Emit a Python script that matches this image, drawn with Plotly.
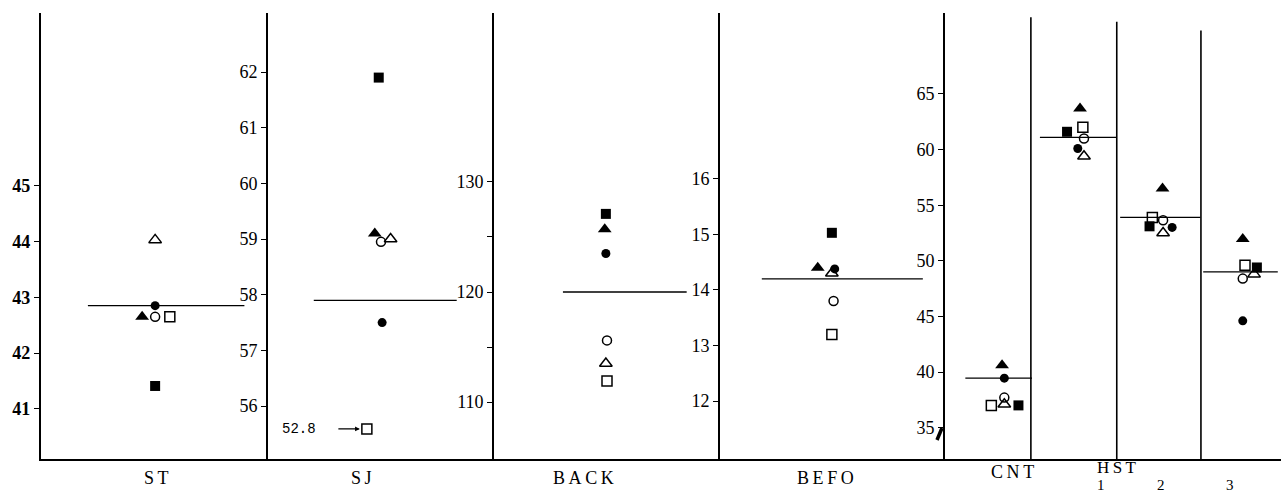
import plotly.graph_objects as go

W, H = 1281, 495
PX = 56.5  # pixels per x-unit inside every panel

# ---------------- data ----------------
panel_left_px = [41, 268, 494, 720, 945]
panel_right_px = [268, 494, 720, 945, 1281]
y_ranges = [[40.10, 48.10], [55.05, 63.06], [104.82, 145.36], [10.955, 18.99], [32.18, 72.28]]
y_ticks = [[41, 42, 43, 44, 45],
           [56, 57, 58, 59, 60, 61, 62],
           [110, 115, 120, 125, 130],
           [12, 13, 14, 15, 16],
           [35, 40, 45, 50, 55, 60, 65]]
y_ticktext = [["41", "42", "43", "44", "45"],
              ["56", "57", "58", "59", "60", "61", "62"],
              ["110", "", "120", "", "130"],
              ["12", "13", "14", "15", "16"],
              ["35", "40", "45", "50", "55", "60", "65"]]

groups = ["ST", "SJ", "BACK", "BEFO", "CNT", "HST1", "HST2", "HST3"]
group_panel = [0, 1, 2, 3, 4, 4, 4, 4]
group_pos = [2.02, 1.98, 1.98, 1.98, 1.03, 2.39, 3.81, 5.31]

filled_circle = [42.85, 57.5, 123.5, 14.38, 39.45, 60.1, 53.0, 44.6]
open_circle = [42.65, 58.95, 115.6, 13.8, 37.7, 61.0, 53.65, 48.4]
filled_triangle = [42.65, 59.1, 125.7, 14.4, 40.6, 63.7, 56.5, 51.95]
open_triangle = [44.03, 59.0, 113.5, 14.3, 37.1, 59.4, 52.5, 48.8]
filled_square = [41.41, 61.9, 127.1, 15.03, 37.0, 61.6, 53.1, 49.4]
open_square = [42.65, 52.8, 111.9, 13.2, 37.0, 62.0, 53.9, 49.6]
means = [42.85, 57.9, 120.0, 14.2, 39.45, 61.1, 53.9, 49.0]

# horizontal jitter of each marker within its group (x-units)
off_fc = [0, 0.04, 0, 0.05, 0.02, -0.04, 0.21, -0.04]
off_oc = [0, 0.02, 0.02, 0.03, 0.02, 0.07, 0.05, -0.04]
off_ft = [-0.23, -0.09, -0.02, -0.25, -0.02, 0, 0.04, -0.04]
off_ot = [0, 0.19, 0, 0, 0.02, 0.07, 0.05, 0.16]
off_fs = [0, -0.02, 0, 0, 0.27, -0.23, -0.19, 0.21]
off_os = [0.26, -0.23, 0.02, 0, -0.21, 0.05, -0.14, 0]

# extents of the mean line around the group centre (x-units)
mean_left = [-1.19, -1.17, -0.76, -1.24, -0.67, -0.71, -0.71, -0.74]
mean_right = [1.58, 1.36, 1.43, 1.61, 0.51, 0.64, 0.71, 0.58]

# dividers inside the last panel
divider_pos = [1.52, 3.04, 4.53]
divider_top = [71.9, 71.5, 70.7]

# axis labels
label_text = ["ST", "SJ", "BACK", "BEFO", "CNT", "HST", "1", "2", "3"]
label_panel = [0, 1, 2, 3, 4, 4, 4, 4, 4]
label_pos = [2.04, 1.65, 1.59, 1.87, 1.20, 3.04, 2.76, 3.83, 5.04]
label_row = [478, 478, 478, 478, 472, 467, 485, 485, 485]
label_size = [18, 18, 18, 18, 18, 17, 15, 15, 15]

# value below the SJ axis floor, drawn at the floor with its true value written
sj_floor = 55.59

FONT = "Liberation Serif"

fig = go.Figure()


def ax_name(i, kind):
    return kind if i == 0 else f"{kind}{i + 1}"


markers = [
    (filled_circle, off_fc, dict(symbol="circle", size=9, color="black")),
    (open_circle, off_oc, dict(symbol="circle-open", size=9, color="black", line=dict(width=1.5, color="black"))),
    (filled_triangle, off_ft, dict(symbol="triangle-up", size=12, color="black")),
    (open_triangle, off_ot, dict(symbol="triangle-up-open", size=11, color="black", line=dict(width=1.5, color="black"))),
    (filled_square, off_fs, dict(symbol="square", size=10, color="black")),
    (open_square, off_os, dict(symbol="square-open", size=10, color="black", line=dict(width=1.5, color="black"))),
]

for p in range(5):
    idx = [g for g in range(len(groups)) if group_panel[g] == p]
    xr, yr = ax_name(p, "x"), ax_name(p, "y")
    # mean lines
    for g in idx:
        fig.add_trace(go.Scatter(
            x=[group_pos[g] + mean_left[g], group_pos[g] + mean_right[g]],
            y=[means[g], means[g]], mode="lines",
            line=dict(color="black", width=1.3), xaxis=xr, yaxis=yr,
            showlegend=False, hoverinfo="skip"))
    for vals, offs, mk in markers:
        xs = [group_pos[g] + offs[g] for g in idx]
        ys = [max(vals[g], sj_floor) if groups[g] == "SJ" else vals[g] for g in idx]
        fig.add_trace(go.Scatter(x=xs, y=ys, mode="markers", marker=mk,
                                 xaxis=xr, yaxis=yr, showlegend=False))

# dividers in last panel
for d, top in zip(divider_pos, divider_top):
    fig.add_trace(go.Scatter(x=[d, d], y=[y_ranges[4][0], top], mode="lines",
                             line=dict(color="black", width=1.6),
                             xaxis="x5", yaxis="y5", showlegend=False, hoverinfo="skip"))

layout = dict(width=W, height=H, margin=dict(l=0, r=0, t=0, b=0),
              paper_bgcolor="white", plot_bgcolor="white", showlegend=False)

ydom = [1 - 459 / H, 1 - 13 / H]
for p in range(5):
    left, right = panel_left_px[p], panel_right_px[p]
    layout[ax_name(p, "xaxis")] = dict(
        domain=[left / W, right / W], range=[0, (right - left) / PX],
        showline=True, linecolor="black", linewidth=1.5, showgrid=False,
        zeroline=False, showticklabels=False, ticks="", anchor=ax_name(p, "y"))
    layout[ax_name(p, "yaxis")] = dict(
        domain=ydom, range=y_ranges[p], tickmode="array", tickvals=y_ticks[p],
        ticktext=y_ticktext[p], ticks="outside", ticklen=5, tickwidth=1.2,
        tickcolor="black", showline=True, linecolor="black",
        linewidth=2.4 if p == 0 else 1.6, showgrid=False, zeroline=False,
        tickfont=dict(family=FONT, size=18, color="black",
                      weight=700 if p == 0 else 400),
        anchor=ax_name(p, "x"))
fig.update_layout(**layout)

# axis labels under the panels
for t, p, pos, row, sz in zip(label_text, label_panel, label_pos, label_row, label_size):
    fig.add_annotation(x=pos, y=1 - row / H, xref=ax_name(p, "x"), yref="paper",
                       text="\u2009".join(t), showarrow=False, borderpad=0,
                       font=dict(family=FONT, size=sz, color="black"),
                       xanchor="center", yanchor="middle")

# the off-scale SJ square: true value and arrow
sj = groups.index("SJ")
sj_x = group_pos[sj] + off_os[sj]
fig.add_annotation(x=sj_x, y=sj_floor, xref="x2", yref="y2", text="",
                   showarrow=True, ax=-30, ay=0, arrowhead=2, arrowsize=0.8,
                   arrowwidth=1.2, standoff=7, arrowcolor="black")
fig.add_annotation(x=sj_x, y=sj_floor, xref="x2", yref="y2",
                   text=f"{open_square[sj]:.1f}", showarrow=False, xshift=-68,
                   font=dict(family="Liberation Mono", size=14, color="black"))

# axis break mark near 35 on the last panel
fig.add_shape(type="line", xref="paper", yref="paper",
              x0=937 / W, y0=1 - 440 / H, x1=942 / W, y1=1 - 428 / H,
              line=dict(color="black", width=3.5))

fig.write_html("out.html", post_script="document.body.style.margin='0';",
               config={"displayModeBar": False})
